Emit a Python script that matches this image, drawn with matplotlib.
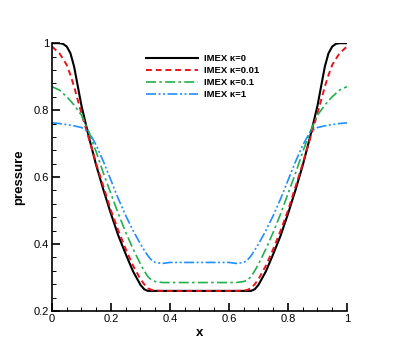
import matplotlib.pyplot as plt
from matplotlib.ticker import MultipleLocator

plt.rcParams['font.family'] = ['Liberation Sans', 'DejaVu Sans']

x = [0.0, 0.025, 0.0375, 0.05, 0.0625, 0.075, 0.1, 0.125, 0.15, 0.175, 0.2, 0.225,
     0.25, 0.275, 0.3, 0.3125, 0.325, 0.3375, 0.35, 0.375, 0.4, 0.425, 0.45, 0.475,
     0.5, 0.525, 0.55, 0.575, 0.6, 0.625, 0.65, 0.6625, 0.675, 0.6875, 0.7, 0.725,
     0.75, 0.775, 0.8, 0.825, 0.85, 0.875, 0.9, 0.925, 0.9375, 0.95, 0.9625, 0.975, 1.0]

p_k0 = [1.0, 1.0, 0.998, 0.99, 0.97, 0.93, 0.813, 0.72, 0.635, 0.56, 0.49, 0.425,
        0.37, 0.318, 0.278, 0.265, 0.26, 0.26, 0.26, 0.26, 0.26, 0.26, 0.26, 0.26,
        0.26, 0.26, 0.26, 0.26, 0.26, 0.26, 0.26, 0.26, 0.26, 0.265, 0.278, 0.318,
        0.37, 0.425, 0.49, 0.56, 0.635, 0.72, 0.813, 0.93, 0.97, 0.99, 0.998, 1.0, 1.0]

p_k001 = [0.99, 0.97, 0.953, 0.935, 0.905, 0.87, 0.79, 0.715, 0.64, 0.57, 0.50, 0.44,
          0.385, 0.335, 0.295, 0.28, 0.268, 0.263, 0.261, 0.26, 0.26, 0.26, 0.26, 0.26,
          0.26, 0.26, 0.26, 0.26, 0.26, 0.26, 0.261, 0.263, 0.268, 0.28, 0.295, 0.335,
          0.385, 0.44, 0.50, 0.57, 0.64, 0.715, 0.79, 0.87, 0.905, 0.935, 0.953, 0.97, 0.99]

p_k01 = [0.87, 0.86, 0.85, 0.84, 0.828, 0.815, 0.785, 0.735, 0.675, 0.61, 0.55, 0.49,
         0.435, 0.385, 0.34, 0.32, 0.303, 0.292, 0.288, 0.285, 0.285, 0.285, 0.285, 0.285,
         0.285, 0.285, 0.285, 0.285, 0.285, 0.285, 0.288, 0.292, 0.303, 0.32, 0.34, 0.385,
         0.435, 0.49, 0.55, 0.61, 0.675, 0.735, 0.785, 0.815, 0.828, 0.84, 0.85, 0.86, 0.87]

p_k1 = [0.762, 0.76, 0.758, 0.757, 0.755, 0.753, 0.748, 0.735, 0.695, 0.645, 0.59, 0.535,
        0.485, 0.44, 0.40, 0.382, 0.365, 0.352, 0.345, 0.342, 0.345, 0.345, 0.345, 0.345,
        0.345, 0.345, 0.345, 0.345, 0.345, 0.342, 0.345, 0.352, 0.365, 0.382, 0.40, 0.44,
        0.485, 0.535, 0.59, 0.645, 0.695, 0.735, 0.748, 0.753, 0.755, 0.757, 0.758, 0.76, 0.762]

labels = ["IMEX \u03ba=0", "IMEX \u03ba=0.01", "IMEX \u03ba=0.1", "IMEX \u03ba=1"]

fig = plt.figure(figsize=(3.95, 3.51), dpi=100)
ax = fig.add_axes([0.1316, 0.114, 0.7468, 0.763])

ax.plot(x, p_k0, color='black', lw=1.5, label=labels[0])
ax.plot(x, p_k001, color='#e8141c', lw=1.4, dashes=(3, 2), label=labels[1])
ax.plot(x, p_k01, color='#21b04b', lw=1.2, dashes=(6, 2, 1.5, 2), label=labels[2])
ax.plot(x, p_k1, color='#1e90ff', lw=1.2, dashes=(6, 1.5, 1.2, 1.5, 1.2, 1.5), label=labels[3])

ax.set_xlim(0, 1)
ax.set_ylim(0.2, 1)
ax.set_xticks([0, 0.2, 0.4, 0.6, 0.8, 1])
ax.set_xticklabels(["0", "0.2", "0.4", "0.6", "0.8", "1"])
ax.set_yticks([0.2, 0.4, 0.6, 0.8, 1])
ax.set_yticklabels(["0.2", "0.4", "0.6", "0.8", "1"])
ax.xaxis.set_minor_locator(MultipleLocator(0.05))
ax.yaxis.set_minor_locator(MultipleLocator(0.04))

ax.spines['top'].set_visible(False)
ax.spines['right'].set_visible(False)
ax.spines['left'].set_linewidth(1.2)
ax.spines['bottom'].set_linewidth(1.2)
ax.tick_params(which='major', direction='in', length=6, width=1.2, labelsize=8, pad=2)
ax.tick_params(which='minor', direction='in', length=3, width=0.7)

ax.set_xlabel("x", fontsize=9.5, fontweight='bold', labelpad=2)
ax.set_ylabel("pressure", fontsize=9.5, fontweight='bold', labelpad=6)

ax.legend(loc='upper left', bbox_to_anchor=(0.29, 0.99), frameon=False,
          prop={'size': 6.8, 'weight': 'bold'}, handlelength=5.5,
          handletextpad=0.6, labelspacing=0.3)

fig.savefig("out.png", dpi=100)
